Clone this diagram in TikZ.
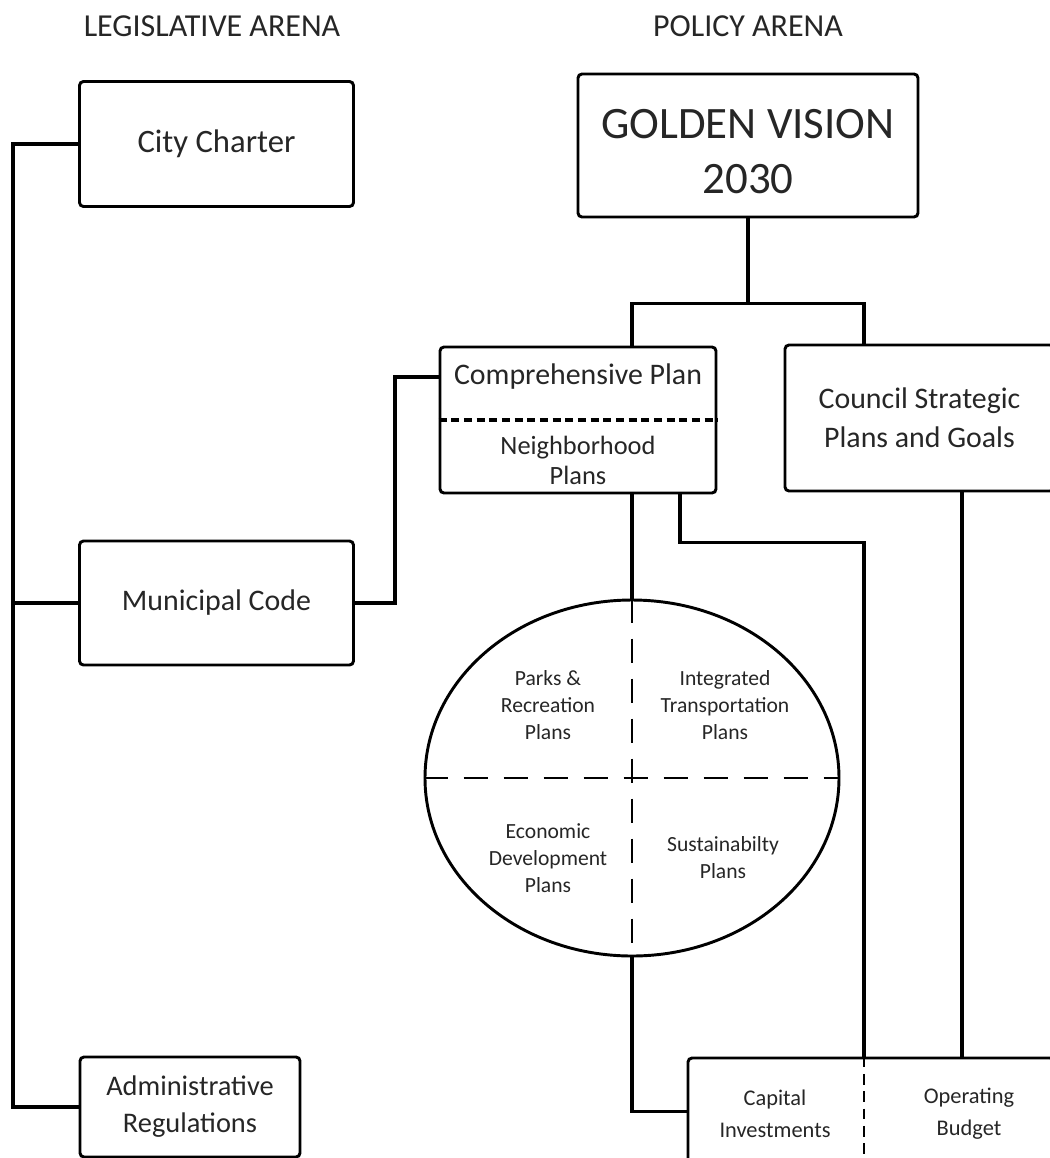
\documentclass[tikz,border=0pt]{standalone}
\usepackage{fontspec}
\setmainfont{Carlito}
\usetikzlibrary{shapes.geometric,calc}
\tikzset{plainbox/.style={draw, rectangle, rounded corners=3pt, line width=2.2pt, inner sep=0pt, align=center}}

\begin{document}
\begin{tikzpicture}[x=0.75pt,y=-0.75pt]
\tikzstyle{head} = [text=black!85, font=\fontsize{24}{29}\selectfont]
\tikzstyle{doc} = [plainbox, text=black!85, font=\fontsize{22.4}{29}\selectfont]
\tikzstyle{small} = [text=black!85, align=center, font=\fontsize{16.2}{20.25}\selectfont]
\tikzstyle{wire} = [draw=black, line width=2.6pt]
\tikzstyle{split} = [dash pattern=on 18pt off 12pt, line width=1.5pt]

\useasboundingbox (0,0) rectangle (1050,1158);

\node (legis) [head] at (212,26) {LEGISLATIVE ARENA};
\node (policy) [head] at (748,26) {POLICY ARENA};

\node (charter) [doc, minimum width=205.5pt, minimum height=93.75pt, font=\fontsize{24.5}{29}\selectfont] at (216.5,144) {City Charter};
\node (muni) [doc, minimum width=205.5pt, minimum height=93pt] at (216.5,603) {Municipal Code};
\node (admin) [doc, minimum width=165pt, minimum height=75pt, font=\fontsize{21.3}{27.75}\selectfont] at (190,1107) {Administrative\\Regulations};

\node (golden) [plainbox, minimum width=255pt, minimum height=107.25pt] at (748,145.5) {};
\node (goldtxt) [doc, draw=none, font=\fontsize{33.7}{41.25}\selectfont] at (748,152) {GOLDEN VISION\\2030};
\node (comp) [plainbox, minimum width=207pt, minimum height=109.5pt] at (578,420) {};
\node (comptxt) [doc, draw=none] at (578,377) {Comprehensive Plan};
\node (nbhd) [doc, draw=none, font=\fontsize{19.8}{22.5}\selectfont] at (578,460) {Neighborhood\\Plans};
\node (council) [doc, minimum width=201.75pt, minimum height=109.5pt] at (919.5,418) {Council Strategic\\Plans and Goals};

\node (ring) [ellipse, draw, line width=2.2pt, minimum width=310.5pt, minimum height=267pt, inner sep=0pt] at (632,778) {};
\node (parks) [small] at (548,705) {Parks \&\\Recreation\\Plans};
\node (transp) [small] at (725,705) {Integrated\\Transportation\\Plans};
\node (econ) [small] at (548,858) {Economic\\Development\\Plans};
\node (sustain) [small] at (723,858) {Sustainabilty\\Plans};

\node (budget) [plainbox, minimum width=274.5pt, minimum height=80.25pt] at (871,1111.5) {};
\node (capital) [small, font=\fontsize{16.8}{24}\selectfont] at (775,1114) {Capital\\Investments};
\node (operating) [small, font=\fontsize{16.8}{24}\selectfont] at (969,1114) {Operating\\Budget};

\coordinate (spine) at (13,0);
\coordinate (jog) at (395,0);
\coordinate (xl) at (632,0);
\coordinate (xm) at (680,0);
\coordinate (xr) at (864,0);
\coordinate (xb) at (962,0);

\path [wire] (charter.west) -| (spine |- admin.west) -- (admin.west);
\path [wire] (muni.west) -- (muni.west -| spine);
\path [wire] (muni.east) -| (jog |- comptxt) -- (comptxt -| comp.west);

\path [wire] (golden.south) -- ++(0,85) -| (comp.north -| xl);
\path [wire] (golden.south) ++(0,85) -| (council.north -| xr);

\draw [dash pattern=on 6pt off 3.5pt, line width=3pt] (comp.west) -- (comp.east);

\path [wire] (comp.south -| xl) -- (ring.north);
\path [wire] (comp.south -| xm) -- ++(0,48) -| (budget.north -| xr);
\path [wire] (council.south -| xb) -- (budget.north -| xb);
\path [wire] (ring.south) |- (budget.west);

\draw [split] (ring.north) -- (ring.south);
\draw [split] (ring.west) -- (ring.east);
\draw [dash pattern=on 8pt off 5pt, line width=1.2pt] (budget.north -| xr) -- (budget.south -| xr);

\end{tikzpicture}
\end{document}
